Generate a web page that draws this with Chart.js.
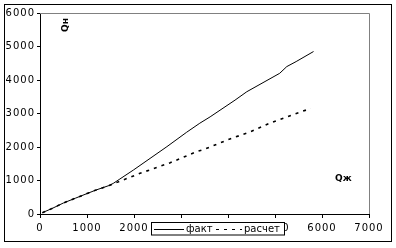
<!DOCTYPE html>
<html>
<head>
<meta charset="utf-8">
<script src="https://cdn.jsdelivr.net/npm/chart.js@4/dist/chart.umd.min.js"></script>
<style>
  html, body { margin: 0; padding: 0; background: #fff; }
  #wrap { width: 396px; height: 248px; }
</style>
</head>
<body>
<div id="wrap"><canvas id="c" width="396" height="248"></canvas></div>
<script>
// ── данные ─────────────────────────────────────────────────
const factQ  = [50, 250, 500, 750, 1000, 1200, 1470, 1560, 1700, 1985, 2700, 3120, 3400, 3620, 4150, 4400, 5100, 5250, 5450, 5820];
const factQn = [40, 160, 330, 470, 610, 720, 850, 915, 1045, 1310, 2010, 2440, 2710, 2900, 3400, 3650, 4200, 4400, 4550, 4850];

const calcQ  = [50, 250, 500, 750, 1000, 1200, 1470, 2130, 2770, 3330, 3510, 4040, 4470, 4890, 5360, 5760];
const calcQn = [40, 160, 330, 470, 610, 720, 850, 1215, 1530, 1860, 1940, 2240, 2450, 2710, 2955, 3150];

const xTicks = [0, 1000, 2000, 3000, 4000, 5000, 6000, 7000];
const yTicks = [0, 1000, 2000, 3000, 4000, 5000, 6000];

const seriesNames = ['факт', 'расчет'];
const FONT = 'DejaVu Sans';

const toPts = (xs, ys) => xs.map((x, i) => ({ x, y: ys[i] }));

// ── рамки, подписи осей, легенда ───────────────────────────
const decor = {
  id: 'decor',
  beforeDraw(chart) {
    const c = chart.ctx;
    c.save();
    c.fillStyle = '#fff';
    c.fillRect(0, 0, chart.width, chart.height);
    c.restore();
    c.letterSpacing = '1px';   // разреженные цифры, как в Excel
  },
  afterDraw(chart) {
    const c = chart.ctx, a = chart.chartArea;
    c.letterSpacing = '0px';
    c.save();
    // серая рамка области построения (верх и право)
    c.strokeStyle = '#808080'; c.lineWidth = 1;
    c.beginPath();
    c.moveTo(a.left, Math.round(a.top) + 0.5);
    c.lineTo(Math.round(a.right) + 0.5, Math.round(a.top) + 0.5);
    c.lineTo(Math.round(a.right) + 0.5, a.bottom);
    c.stroke();
    // внешняя рамка
    c.strokeStyle = '#000';
    c.strokeRect(4.5, 4.5, 387, 237);

    // подписи Qн / Qж
    c.fillStyle = '#000';
    c.font = 'bold 9px ' + FONT;
    c.textBaseline = 'middle';
    c.textAlign = 'center';
    c.save();
    c.translate(66, 25);
    c.rotate(-Math.PI / 2);
    c.fillText('Qн', 0, 0);
    c.restore();
    c.textAlign = 'left';
    c.fillText('Qж', 335, 179);

    // легенда
    c.fillStyle = '#fff';
    c.fillRect(151, 222, 134, 13);
    c.strokeStyle = '#000';
    c.strokeRect(151.5, 222.5, 133, 12.5);
    const ly = 229.5;
    const ds = chart.data.datasets;
    c.lineWidth = 1;
    c.beginPath(); c.moveTo(154, ly); c.lineTo(184, ly); c.stroke();
    c.setLineDash([3, 5]);
    c.beginPath(); c.moveTo(216, ly); c.lineTo(242, ly); c.stroke();
    c.setLineDash([]);
    c.fillStyle = '#000';
    c.font = '10px ' + FONT;
    c.textAlign = 'left';
    c.textBaseline = 'middle';
    c.fillText(ds[0].label, 186, ly);
    c.fillText(ds[1].label, 244, ly);
    c.restore();
  }
};

new Chart(document.getElementById('c'), {
  type: 'scatter',
  data: {
    datasets: [
      {
        label: seriesNames[0],
        data: toPts(factQ, factQn),
        showLine: true, borderColor: '#000', borderWidth: 1,
        pointRadius: 0, tension: 0, fill: false,
      },
      {
        label: seriesNames[1],
        data: toPts(calcQ, calcQn),
        showLine: true, borderColor: '#000', borderWidth: 1.6,
        borderDash: [3, 5], pointRadius: 0, tension: 0, fill: false,
      },
    ]
  },
  options: {
    responsive: false, animation: false, devicePixelRatio: 1,
    layout: { padding: { top: 13, right: 27, left: 0, bottom: 0 } },
    plugins: { legend: { display: false }, tooltip: { enabled: false } },
    scales: {
      x: {
        type: 'linear', min: xTicks[0], max: xTicks[xTicks.length - 1],
        afterBuildTicks: s => { s.ticks = xTicks.map(v => ({ value: v })); },
        afterFit: s => { s.height = 34; },
        border: { color: '#000', width: 1 },
        grid: { drawOnChartArea: false, drawTicks: true, tickLength: 4, color: '#000' },
        ticks: { color: '#000', font: { family: FONT, size: 10 }, padding: 4, maxRotation: 0,
                 callback: v => String(v) },
      },
      y: {
        type: 'linear', min: yTicks[0], max: yTicks[yTicks.length - 1],
        afterBuildTicks: s => { s.ticks = yTicks.map(v => ({ value: v })); },
        afterFit: s => { s.width = 40; },
        border: { color: '#000', width: 1 },
        grid: { drawOnChartArea: false, drawTicks: true, tickLength: 3, color: '#000' },
        ticks: { color: '#000', font: { family: FONT, size: 10 }, padding: 2,
                 callback: v => String(v) },
      }
    }
  },
  plugins: [decor]
});
</script>
</body>
</html>
